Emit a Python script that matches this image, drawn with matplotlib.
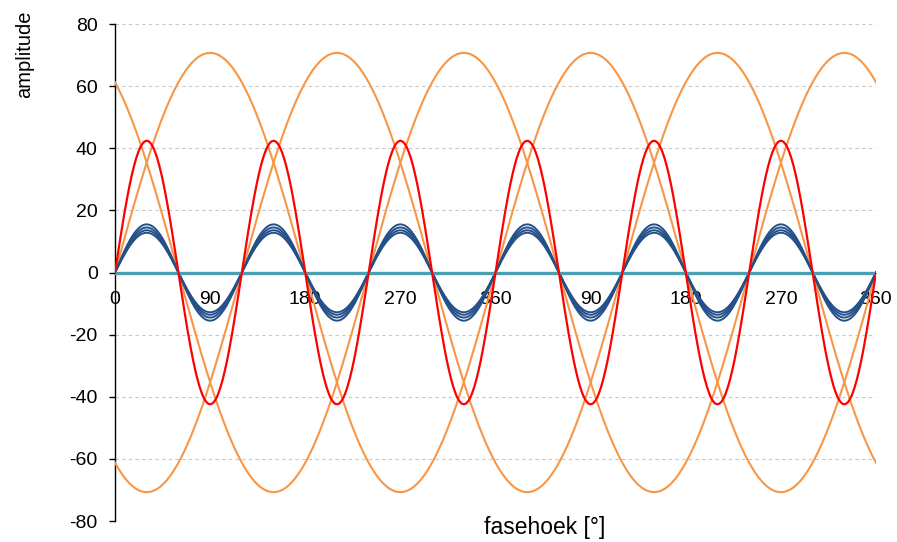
import numpy as np
import matplotlib
matplotlib.use('Agg')
import matplotlib.pyplot as plt

plt.rcParams['font.family'] = ['Liberation Sans', 'DejaVu Sans']

# fasehoek in graden, twee perioden
hoek = np.arange(0, 721, 1)

# drie fasen (oranje): amplitude en fase
fase_amp = [70.7, 70.7, 70.7]
fase_verschuiving = [0, -120, 120]

# derde harmonische (rood)
harm_amp = 42.4
harm_orde = 3

# blauwe lijnen
blauw_amp = [15.5, 14.5, 13.6, 12.8]

# som (op nul)
som = [0.0, 0.0]
som_hoek = [0, 720]

tick_pos = [0, 90, 180, 270, 360, 450, 540, 630, 720]
tick_lab = ['0', '90', '180', '270', '360', '90', '180', '270', '360']
y_ticks = [-80, -60, -40, -20, 0, 20, 40, 60, 80]

fig = plt.figure(figsize=(8.97, 5.42), dpi=100)
ax = fig.add_axes([0.1282, 0.0387, 0.9766 - 0.1282, 0.9557 - 0.0387])

ax.spines['top'].set_visible(False)
ax.spines['right'].set_visible(False)
ax.spines['bottom'].set_position(('data', 0))
ax.spines['bottom'].set_color('#808080')
ax.spines['left'].set_color('black')
ax.spines['left'].set_linewidth(1.0)

rad = np.radians(hoek)
for a, f in zip(fase_amp, fase_verschuiving):
    ax.plot(hoek, a * np.sin(rad + np.radians(f)), color='#F79646', lw=1.5, zorder=3)

for a in blauw_amp:
    ax.plot(hoek, a * np.sin(harm_orde * rad), color='#24508A', lw=1.4, zorder=4)

ax.plot(som_hoek, som, color='#4A9FB3', lw=2.4, zorder=5)

ax.plot(hoek, harm_amp * np.sin(harm_orde * rad), color='#FF0000', lw=1.6, zorder=6)

ax.set_xlim(0, 720)
ax.set_ylim(-80, 80)
ax.set_yticks(y_ticks)
ax.set_yticklabels([str(v) for v in y_ticks])
ax.set_xticks(tick_pos)
ax.set_xticklabels(tick_lab)

ax.tick_params(axis='x', length=0, pad=13, labelsize=14)
ax.tick_params(axis='y', length=4.5, width=1.0, direction='out', pad=8,
               colors='black', labelsize=14)

ax.yaxis.grid(True, color='#C8C8C8', linestyle=(0, (3, 3)), lw=0.8)
ax.set_axisbelow(True)

fig.text(0.607, 0.026, 'fasehoek [°]', ha='center', va='center', fontsize=16.5)
fig.text(0.027, 0.900, 'amplitude', ha='center', va='center', rotation=90, fontsize=14.5)

fig.savefig('out.png', dpi=100)
